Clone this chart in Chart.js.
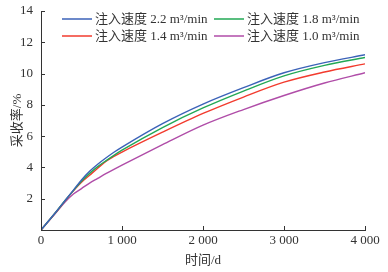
<!DOCTYPE html>
<html>
<head>
<meta charset="utf-8">
<script src="https://cdn.jsdelivr.net/npm/chart.js@4.4.1/dist/chart.umd.min.js"></script>
<style>
  html, body { margin: 0; padding: 0; background: #fff; }
  #wrap { width: 388px; height: 272px; }
</style>
</head>
<body>
<div id="wrap"><canvas id="chart-caisoulv"></canvas></div>
<script>
// time (d) and recovery (%)
const tiempos = [0, 200, 300, 400, 500, 600, 700, 800, 900, 1000, 1500, 2000, 2500, 3000, 3500, 4000];
const serie22 = [0, 1.25, 1.9, 2.55, 3.2, 3.75, 4.2, 4.6, 4.97, 5.3, 6.8, 8.05, 9.1, 10.05, 10.7, 11.2];
const serie18 = [0, 1.25, 1.9, 2.52, 3.12, 3.62, 4.05, 4.42, 4.77, 5.1, 6.55, 7.8, 8.88, 9.85, 10.52, 11.03];
const serie14 = [0, 1.23, 1.88, 2.5, 3.05, 3.5, 3.95, 4.38, 4.7, 4.98, 6.25, 7.45, 8.5, 9.45, 10.1, 10.62];
const serie10 = [0, 1.2, 1.8, 2.3, 2.65, 3.0, 3.3, 3.6, 3.88, 4.15, 5.45, 6.7, 7.7, 8.6, 9.4, 10.05];
const rotulos = ['注入速度 2.2 m³/min', '注入速度 1.8 m³/min', '注入速度 1.4 m³/min', '注入速度 1.0 m³/min'];
const cores = ['#3b62b8', '#22a855', '#f23b2e', '#b04da8'];

const fonteSerif = "'Liberation Serif', 'Noto Sans CJK SC', serif";
const corTexto = '#333';

function pontos(valores) {
  return tiempos.map((t, i) => ({ x: t, y: valores[i] }));
}

function formatarMilhar(v) {
  if (v < 1000) return String(v);
  return Math.floor(v / 1000) + ' ' + String(v % 1000).padStart(3, '0');
}

// ticks pointing into the plot
const ticksInternos = {
  id: 'ticksInternos',
  afterDraw(chart) {
    const ctx = chart.ctx;
    const xs = chart.scales.x, ys = chart.scales.y;
    ctx.save();
    ctx.strokeStyle = corTexto;
    ctx.lineWidth = 1;
    ctx.beginPath();
    xs.ticks.forEach(t => {
      const px = Math.round(xs.getPixelForValue(t.value)) + 0.5;
      ctx.moveTo(px, ys.bottom);
      ctx.lineTo(px, ys.bottom - 4);
    });
    ys.ticks.forEach(t => {
      const py = Math.round(ys.getPixelForValue(t.value)) + 0.5;
      ctx.moveTo(xs.left, py);
      ctx.lineTo(xs.left + 4, py);
    });
    ctx.stroke();
    ctx.restore();
  }
};

// legend drawn inside the plot, 2 columns
const legendaInterna = {
  id: 'legendaInterna',
  afterDraw(chart) {
    const ctx = chart.ctx;
    const colunas = [62, 214];
    const linhas = [19, 36];
    ctx.save();
    ctx.font = '13px ' + fonteSerif;
    ctx.textBaseline = 'middle';
    chart.data.datasets.forEach((ds, i) => {
      const x = colunas[i % 2];
      const y = linhas[Math.floor(i / 2)];
      ctx.strokeStyle = ds.borderColor;
      ctx.lineWidth = 1.5;
      ctx.beginPath();
      ctx.moveTo(x, y);
      ctx.lineTo(x + 30, y);
      ctx.stroke();
      ctx.fillStyle = corTexto;
      ctx.fillText(ds.label, x + 33, y + 1);
    });
    ctx.restore();
  }
};

const conjuntos = [serie22, serie18, serie14, serie10].map((valores, i) => ({
  label: rotulos[i],
  data: pontos(valores),
  borderColor: cores[i],
  backgroundColor: cores[i],
  borderWidth: 1.4,
  pointRadius: 0,
  cubicInterpolationMode: 'monotone'
}));

new Chart(document.getElementById('chart-caisoulv').getContext('2d'), {
  type: 'line',
  data: { datasets: conjuntos },
  options: {
    responsive: true,
    maintainAspectRatio: false,
    animation: false,
    layout: { padding: { top: 11, right: 23, left: 10, bottom: 0 } },
    plugins: {
      legend: { display: false },
      tooltip: { enabled: false }
    },
    scales: {
      x: {
        type: 'linear',
        min: 0,
        max: 4000,
        ticks: {
          stepSize: 1000,
          color: corTexto,
          font: { family: fonteSerif, size: 13 },
          padding: 3,
          callback: v => formatarMilhar(v)
        },
        grid: { display: false, drawTicks: false },
        border: { display: true, color: corTexto, width: 1 },
        title: {
          display: true,
          text: '时间/d',
          color: corTexto,
          font: { family: fonteSerif, size: 13 },
          padding: { top: 0, bottom: 4 }
        },
        afterFit: s => { s.height = 42; }
      },
      y: {
        min: 0,
        max: 14,
        ticks: {
          stepSize: 2,
          color: corTexto,
          font: { family: fonteSerif, size: 13 },
          padding: 8,
          callback: v => (v === 0 ? '' : v)
        },
        grid: { display: false, drawTicks: false },
        border: { display: true, color: corTexto, width: 1 },
        title: {
          display: true,
          text: '采收率/%',
          color: corTexto,
          font: { family: fonteSerif, size: 13 },
          padding: { top: 0, bottom: 0 }
        },
        afterFit: s => { s.width = 31; s.paddingTop = 0; s.paddingBottom = 0; }
      }
    }
  },
  plugins: [ticksInternos, legendaInterna]
});
</script>
</body>
</html>
